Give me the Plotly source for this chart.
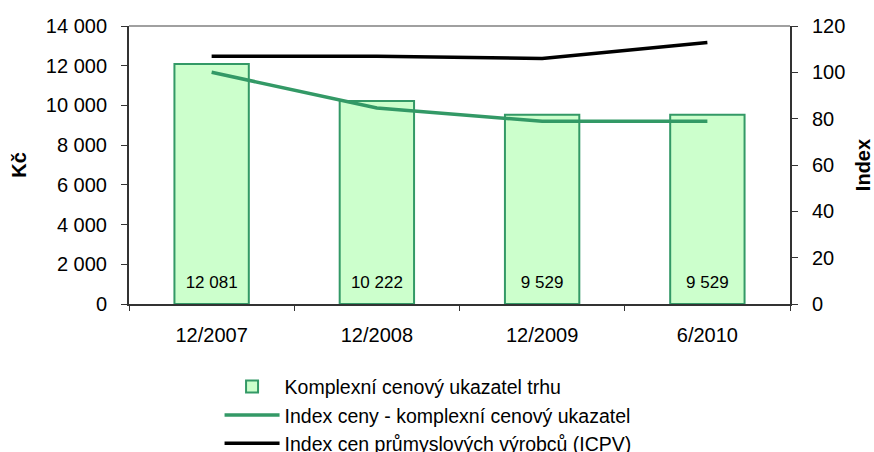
import plotly.graph_objects as go

categories = ["12/2007", "12/2008", "12/2009", "6/2010"]
price_kc = [12081, 10222, 9529, 9529]
index_price = [100, 84.6, 78.9, 78.9]
index_icpv = [106.9, 106.9, 106.0, 112.9]

bar_labels = [f"{v:,}".replace(",", " ") for v in price_kc]
label_y = [1000] * len(categories)

fig = go.Figure()
fig.add_trace(go.Bar(
    x=categories, y=price_kc, name="Komplexní cenový ukazatel trhu",
    marker=dict(color="#CCFFCC", line=dict(color="#339966", width=2)),
    width=0.45,
))
fig.add_trace(go.Scatter(
    x=categories, y=label_y, text=bar_labels, mode="text",
    textfont=dict(size=17, color="black"), showlegend=False, hoverinfo="skip",
))
fig.add_trace(go.Scatter(
    x=categories, y=index_price, name="Index ceny - komplexní cenový ukazatel",
    mode="lines", line=dict(color="#339966", width=3.5), yaxis="y2",
))
fig.add_trace(go.Scatter(
    x=categories, y=index_icpv, name="Index cen průmyslových výrobců (ICPV)",
    mode="lines", line=dict(color="black", width=3.5), yaxis="y2",
))

font = "Liberation Sans, Arial, sans-serif"
fig.update_layout(
    width=874, height=452,
    margin=dict(l=129, r=84, t=26, b=148, autoexpand=False),
    paper_bgcolor="white", plot_bgcolor="white",
    font=dict(family=font, size=20, color="black"),
    separators=", ",
    showlegend=True,
    legend=dict(x=0.137, y=-0.228, xanchor="left", yanchor="top",
                font=dict(size=19.5), tracegroupgap=0, itemwidth=55,
                bgcolor="rgba(0,0,0,0)"),
    xaxis=dict(showline=True, linecolor="#333333", linewidth=2,
               ticks="outside", ticklen=5, tickcolor="#333333",
               tickson="boundaries", tickfont=dict(size=20),
               ticklabelstandoff=12, showgrid=False, automargin=False),
    yaxis=dict(range=[0, 14000], dtick=2000, tickformat=",d",
               showline=True, linecolor="#333333", linewidth=2,
               ticks="outside", ticklen=6, tickcolor="#333333",
               showgrid=False, zeroline=False, ticklabelstandoff=10,
               automargin=False,
               title=dict(text="<b>Kč</b>", font=dict(size=20), standoff=14),
               tickfont=dict(size=20)),
    yaxis2=dict(range=[0, 120], dtick=20, overlaying="y", side="right",
                showline=True, linecolor="#333333", linewidth=2,
                ticks="outside", ticklen=6, tickcolor="#333333",
                showgrid=False, zeroline=False, ticklabelstandoff=10,
                automargin=False,
                title=dict(text="<b>Index</b>", font=dict(size=20), standoff=14),
                tickfont=dict(size=20)),
)
# plot-area frame (top edge)
fig.add_shape(type="line", xref="paper", yref="paper", x0=0, x1=1, y0=1, y1=1,
              line=dict(color="#808080", width=1.5))

fig.write_html(
    "out.html",
    config={"displayModeBar": False},
    post_script="document.body.style.margin='0';document.body.style.overflow='hidden';",
)
